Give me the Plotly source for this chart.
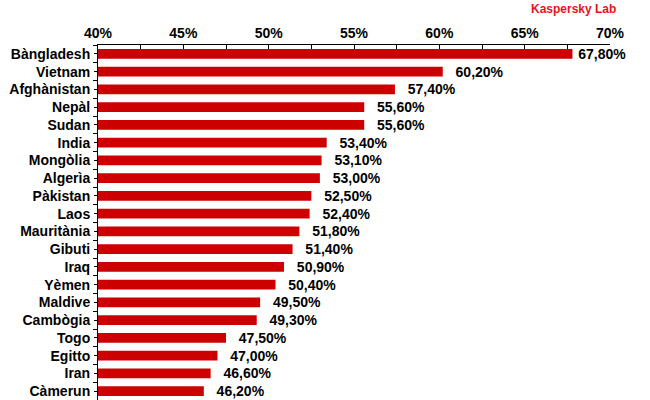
import plotly.graph_objects as go

countries = ["Bàngladesh", "Vietnam", "Afghànistan", "Nepàl", "Sudan", "India",
             "Mongòlia", "Algerìa", "Pàkistan", "Laos", "Mauritània", "Gibuti",
             "Iraq", "Yèmen", "Maldive", "Cambògia", "Togo", "Egitto", "Iran",
             "Càmerun"]
values = [67.8, 60.2, 57.4, 55.6, 55.6, 53.4, 53.1, 53.0, 52.5, 52.4, 51.8,
          51.4, 50.9, 50.4, 49.5, 49.3, 47.5, 47.0, 46.6, 46.2]

font_main = "Liberation Sans, Arial, sans-serif"

# the longest bar's label sits a little closer to its bar than the rest
label_fmt = ["\u2009%{x:.2f}%"] + ["\u2002\u2009%{x:.2f}%"] * (len(values) - 1)

fig = go.Figure(go.Bar(
    x=values,
    y=countries,
    orientation="h",
    width=0.56,
    marker=dict(color="#CC0000", line=dict(width=0)),
    texttemplate=label_fmt,
    textposition="outside",
    constraintext="none",
    cliponaxis=False,
    textfont=dict(family=font_main, size=14, color="black", weight="bold"),
    hoverinfo="y+x",
))

# invisible trace so the second y axis (ticks at row centres) is drawn
fig.add_trace(go.Scatter(
    x=[None], y=[None], yaxis="y2", mode="markers",
    showlegend=False, hoverinfo="skip",
))

fig.update_layout(
    width=650, height=400,
    margin=dict(l=98, r=40, t=45, b=0),
    plot_bgcolor="white", paper_bgcolor="white",
    separators=",.",
    showlegend=False,
    font=dict(family=font_main, size=14, color="black", weight="bold"),
    annotations=[dict(
        text="Kaspersky Lab", xref="paper", yref="paper",
        x=1.0160, y=1.0, yshift=36, xanchor="right", yanchor="middle",
        showarrow=False,
        font=dict(family=font_main, size=12, color="#E8141B", weight="bold"),
    )],
    yaxis2=dict(
        overlaying="y", side="left", anchor="x",
        range=[len(countries) - 0.5, -0.5],
        tickvals=list(range(len(countries))),
        showticklabels=False, showgrid=False, zeroline=False,
        showline=False, ticks="outside", ticklen=3, tickcolor="black",
        automargin=False,
    ),
)

fig.update_xaxes(
    side="top", range=[40, 70], dtick=5, ticksuffix="%",
    showgrid=False, zeroline=False, automargin=False,
    showline=True, linecolor="black", linewidth=1,
    ticks="inside", ticklen=4, tickcolor="black",
    minor=dict(dtick=2.5, ticks="inside", ticklen=4, tickcolor="black"),
    tickfont=dict(size=14, weight="bold"),
)
fig.layout.yaxis.update(
    autorange="reversed", categoryorder="array", categoryarray=countries,
    showgrid=False, showline=True, linecolor="black", linewidth=1,
    automargin=False,
    ticks="outside", tickson="boundaries", ticklen=4, tickcolor="black",
    ticklabelstandoff=4,
    tickfont=dict(size=14, weight="bold"),
)

# drop the browser's default 8px body margin so the figure sits at the corner
fig.write_html("out.html", config={"displayModeBar": False},
               post_script="document.body.style.margin='0';")
